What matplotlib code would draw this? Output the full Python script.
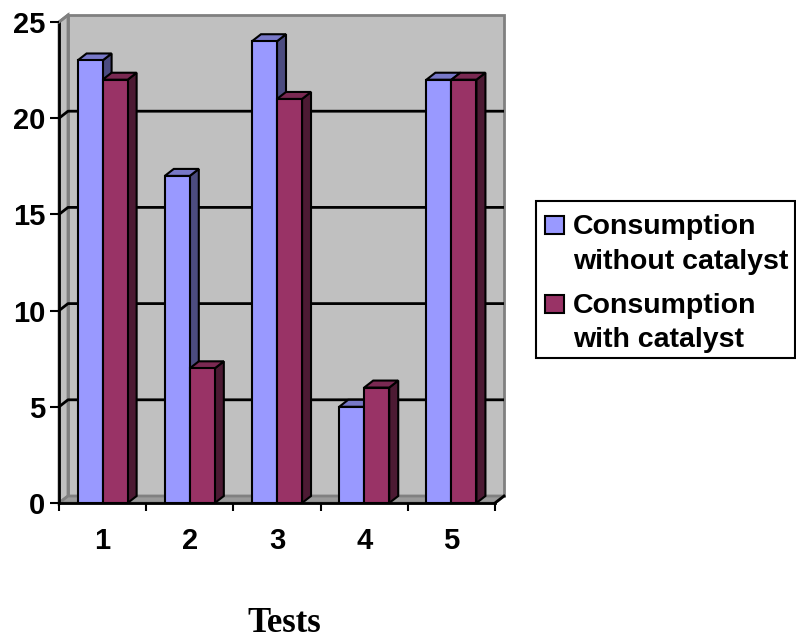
import matplotlib
matplotlib.use("Agg")
import matplotlib.pyplot as plt
from matplotlib.patches import Polygon, Rectangle

# datos de consumo por prueba
pruebas = ["1", "2", "3", "4", "5"]
sin_catalizador = [23, 17, 24, 5, 22]
con_catalizador = [22, 7, 21, 6, 22]
marcas_y = [0, 5, 10, 15, 20, 25]
series = ["Consumption\nwithout catalyst", "Consumption\nwith catalyst"]

azul = "#9999ff"
azul_top = "#7878c8"
azul_lado = "#4c4c80"
rojo = "#993366"
rojo_top = "#7a2952"
rojo_lado = "#4c1a33"
gris = "#c0c0c0"
gris_borde = "#808080"

W, H = 796, 639
fig = plt.figure(figsize=(W / 100, H / 100), dpi=100)
ax = fig.add_axes([59 / W, (H - 503) / H, 436 / W, 481 / H])
ax.set_xlim(0.5, 5.5)
ax.set_ylim(0, 25)

# profundidad del efecto 3D en unidades de datos
px_x = 5 / 436
px_y = 25 / 481
dx = 9 * px_x
dy = 7 * px_y

for s in ax.spines.values():
    s.set_visible(False)
ax.patch.set_visible(False)

# pared del fondo, pared lateral y suelo
x0, x1 = 0.5, 5.5
ax.add_patch(Polygon([(x0 + dx, dy), (x1 + dx, dy), (x1 + dx, 25 + dy), (x0 + dx, 25 + dy)],
                     closed=True, fc=gris, ec=gris_borde, lw=2, clip_on=False, zorder=0))
ax.add_patch(Polygon([(x0, 0), (x0 + dx, dy), (x0 + dx, 25 + dy), (x0, 25)],
                     closed=True, fc=gris, ec=gris_borde, lw=2, clip_on=False, zorder=0.5))
ax.add_patch(Polygon([(x0, 0), (x1, 0), (x1 + dx, dy), (x0 + dx, dy)],
                     closed=True, fc="#9a9a9a", ec=gris_borde, lw=2, clip_on=False, zorder=0.5))

# lineas de cuadricula sobre las paredes
for v in marcas_y[1:-1]:
    ax.plot([x0, x0 + dx, x1 + dx], [v, v + dy, v + dy], color="black", lw=2,
            clip_on=False, zorder=0.8, solid_capstyle="butt")

# ejes
ax.plot([x0, x0], [0, 25], color="black", lw=2, clip_on=False, zorder=1)
ax.plot([x0, x1], [0, 0], color="black", lw=2, clip_on=False, zorder=1)
ax.plot([x0, x0 + dx], [25, 25 + dy], color=gris_borde, lw=2, clip_on=False, zorder=1)
ax.plot([x1, x1 + dx], [0, dy], color="black", lw=2, clip_on=False, zorder=1)

# barras con cara lateral y superior
ancho = 0.287
pos = list(range(1, len(pruebas) + 1))
z = 2
for i, p in enumerate(pos):
    for h, off, cf, ct, cl in [(sin_catalizador[i], -ancho / 2, azul, azul_top, azul_lado),
                               (con_catalizador[i], ancho / 2, rojo, rojo_top, rojo_lado)]:
        xa = p + off - ancho / 2
        xb = p + off + ancho / 2
        ax.add_patch(Polygon([(xb, 0), (xb + dx, dy), (xb + dx, h + dy), (xb, h)],
                             closed=True, fc=cl, ec="black", lw=1.5, zorder=z, clip_on=False))
        ax.add_patch(Polygon([(xa, h), (xb, h), (xb + dx, h + dy), (xa + dx, h + dy)],
                             closed=True, fc=ct, ec="black", lw=1.5, zorder=z, clip_on=False))
        ax.bar(p + off, h, width=ancho, color=cf, edgecolor="black", lw=1.5, zorder=z + 0.1)
        z += 1

fuente = dict(family="Liberation Sans", weight="bold", size=21)

ax.set_yticks(marcas_y)
ax.set_yticklabels([str(v) for v in marcas_y], fontdict=fuente)
ax.tick_params(axis="y", length=6.5, width=1.5, pad=3.5)

ax.set_xticks(pos)
ax.set_xticklabels(pruebas, fontdict=fuente)
ax.set_xticks([0.5, 1.5, 2.5, 3.5, 4.5, 5.5], minor=True)
ax.tick_params(axis="x", which="major", length=0, pad=17)
ax.tick_params(axis="x", which="minor", length=5.5, width=1.5)

ax.set_xlabel("Tests", family="Liberation Serif", weight="bold", size=25)
ax.xaxis.set_label_coords((284 - 59) / 436, -(632 - 503) / 481)
ax.xaxis.label.set_va("baseline")


# leyenda dibujada a mano: cuadro alineado con la primera linea de cada serie
def fx(px):
    return px / W


def fy(py):
    return 1 - py / H


fig.patches.append(Rectangle((fx(536), fy(358)), fx(795) - fx(536), fy(201) - fy(358),
                             transform=fig.transFigure, fc="white", ec="black", lw=1.5))
colores = [azul, rojo]
bases = [(234, 269), (313, 347)]
leyenda = dict(fuente, size=20.5)
for nombre, color, (b1, b2) in zip(series, colores, bases):
    fig.patches.append(Rectangle((fx(545), fy(b1)), fx(564) - fx(545), fy(b1 - 18) - fy(b1),
                                 transform=fig.transFigure, fc=color, ec="black", lw=1.5))
    l1, l2 = nombre.split("\n")
    fig.text(fx(573), fy(b1), l1, va="baseline", ha="left", **leyenda)
    fig.text(fx(573), fy(b2), l2, va="baseline", ha="left", **leyenda)

fig.savefig("out.png", dpi=100)
